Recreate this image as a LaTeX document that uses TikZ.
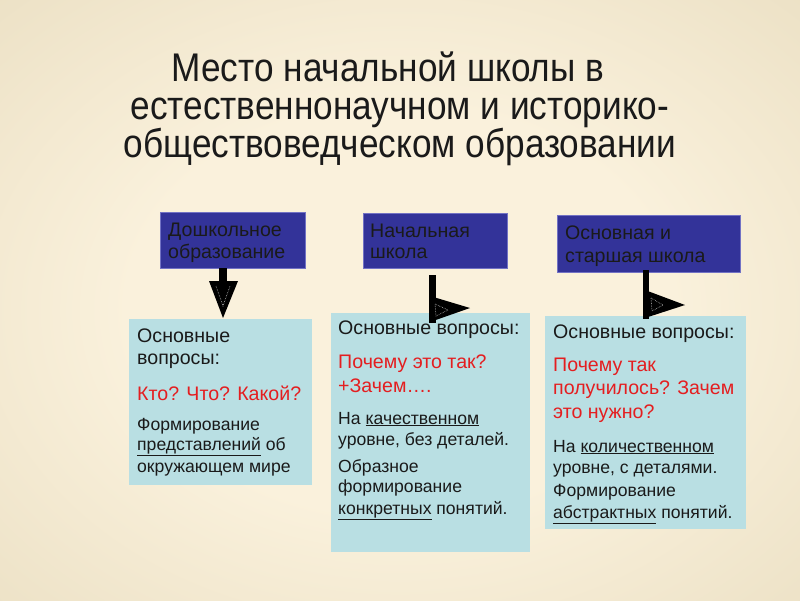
\documentclass[tikz,border=0pt]{standalone}
\usepackage{fontspec}
\setmainfont{Liberation Sans}
\newfontfamily\titlefont[FakeStretch=0.88]{Liberation Sans}
\definecolor{bgin}{HTML}{FAF1DC}
\definecolor{bgout}{HTML}{D4C59E}
\definecolor{navy}{HTML}{333399}
\definecolor{navyedge}{HTML}{7272C4}
\definecolor{paleblue}{HTML}{B9DFE3}
\definecolor{qred}{HTML}{E41E20}
\definecolor{txt}{HTML}{1A1A1A}
\pgfdeclareradialshading{bgshade}{\pgfpoint{0bp}{0bp}}{color(0bp)=(bgin); color(12bp)=(bgin); color(50bp)=(bgout)}
\tikzset{
  navybox/.style={draw=navyedge, line width=0.8pt, fill=navy},
  palebox/.style={fill=paleblue},
  big/.style={font=\fontsize{19.6}{23}\selectfont, anchor=base west, inner sep=0pt, text=txt},
  small/.style={font=\fontsize{17.6}{21}\selectfont, anchor=base west, inner sep=0pt, text=txt},
  redq/.style={big, text=qred},
  titleline/.style={font=\titlefont\fontsize{40}{40}\selectfont, anchor=base, inner sep=0pt, text=txt},
  arrowblk/.style={fill=black},
  innerdash/.style={draw=white!75!black, line width=0.6pt, densely dotted}
}
\begin{document}
\begin{tikzpicture}[x=1pt,y=-1pt]
\useasboundingbox (0,0) rectangle (800,600);
\begin{scope}
  \clip (0,0) rectangle (800,600);
  \shade[shading=bgshade] (-166,-114) rectangle (966,734);
\end{scope}
% title
\node[titleline] (t1) at (388,81) {Место начальной школы в};
\node[titleline] (t2) at (400,119) {естественнонаучном и историко-};
\node[titleline] (t3) at (400,157) {обществоведческом образовании};
% top boxes
\draw[navybox] (160,212) rectangle (305,268);
\draw[navybox] (363,213) rectangle (507,268);
\draw[navybox] (557,215) rectangle (740,272);
\node[big] (h1a) at (168,236) {Дошкольное};
\node[big] (h1b) at (168,258) {образование};
\node[big] (h2a) at (370,237) {Начальная};
\node[big] (h2b) at (370,258) {школа};
\node[big] (h3a) at (565,239) {Основная и};
\node[big] (h3b) at (565,262) {старшая школа};
% lower boxes
\fill[palebox] (129,319) rectangle (312,485);
\fill[palebox] (331,313) rectangle (530,552);
\fill[palebox] (545,316) rectangle (746,529);
% box A
\node[big] (a1) at (137,342) {Основные};
\node[big] (a2) at (137,364) {вопросы:};
\node[redq] (a3) at (137,400) {Кто? Что? Какой?};
\node[small] (a4) at (137,430) {Формирование};
\node[small] (a5) at (137,450) {\underline{представлений} об};
\node[small] (a6) at (137,472) {окружающем мире};
% box B
\node[big] (b1) at (338,334) {Основные вопросы:};
\node[redq] (b2) at (338,368) {Почему это так?};
\node[redq] (b3) at (338,392) {+Зачем….};
\node[small] (b4) at (338,424) {На \underline{качественном}};
\node[small] (b5) at (338,445) {уровне, без деталей.};
\node[small] (b6) at (338,472) {Образное};
\node[small] (b7) at (338,492) {формирование};
\node[small] (b8) at (338,514) {\underline{конкретных} понятий.};
% box C
\node[big] (c1) at (553,338) {Основные вопросы:};
\node[redq] (c2) at (553,371) {Почему так};
\node[redq] (c3) at (553,394) {получилось? Зачем};
\node[redq] (c4) at (553,418) {это нужно?};
\node[small] (c5) at (553,452) {На \underline{количественном}};
\node[small] (c6) at (553,473) {уровне, с деталями.};
\node[small] (c7) at (553,496) {Формирование};
\node[small] (c8) at (553,518) {\underline{абстрактных} понятий.};
% arrows
\fill[arrowblk] (219,268) rectangle (227,282);
\fill[arrowblk] (209,281) -- (238,281) -- (223,318) -- cycle;
\draw[innerdash] (216,286) -- (223,306) -- (230,286);
\fill[arrowblk] (429,275) rectangle (436,323);
\fill[arrowblk] (430,296) -- (470,308) -- (430,322) -- cycle;
\draw[innerdash] (435,304) -- (448,310) -- (436,316) -- cycle;
\fill[arrowblk] (643,270) rectangle (649,319);
\fill[arrowblk] (645,290) -- (685,305) -- (645,318) -- cycle;
\draw[innerdash] (651,298) -- (663,305) -- (652,311) -- cycle;
\end{tikzpicture}
\end{document}
